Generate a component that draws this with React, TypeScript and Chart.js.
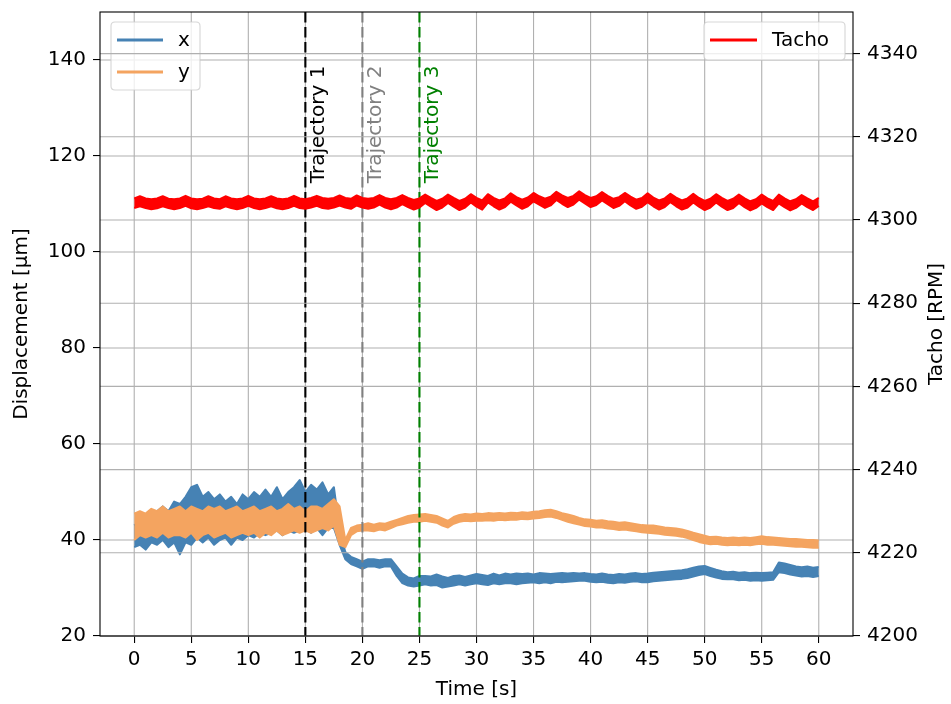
import React, { useEffect, useRef } from "react";
import { Chart, registerables } from "chart.js";
Chart.register(...registerables);

const STEP = 0.5; // seconds between envelope samples
const X_TICKS = [0, 5, 10, 15, 20, 25, 30, 35, 40, 45, 50, 55, 60];
const LEFT_TICKS = [20, 40, 60, 80, 100, 120, 140];
const RIGHT_TICKS = [4200, 4220, 4240, 4260, 4280, 4300, 4320, 4340];

const MARKER_TIMES = [15, 20, 25];
const MARKER_LABELS = ["Trajectory 1", "Trajectory 2", "Trajectory 3"];
const MARKER_COLORS = ["#000000", "#808080", "#008000"];

// displacement x [µm] – upper / lower envelope of the noisy trace
const X_UPPER = [
  43, 44, 44, 45, 46, 47, 46, 48, 47.5, 49,
  51, 51.5, 49, 50, 48.5, 49.5, 48, 49, 47.5, 49.5,
  48.5, 50, 49, 50.5, 49, 51, 48.5, 50, 51, 52.5,
  50, 51.5, 50.5, 52, 49.5, 51, 42, 37.5, 36.5, 36,
  35.5, 36, 36, 35.8, 36, 36, 34.5, 33, 32.2, 32,
  32.5, 32.5, 32.4, 32.8, 32.4, 32.1, 32.5, 32.6, 32.3, 32.6,
  32.9, 32.7, 32.5, 33, 32.6, 33, 32.8, 33, 32.9, 33,
  32.8, 33.1, 33, 32.9, 33, 33.1, 33, 33.1, 33, 33.1,
  32.9, 32.8, 33, 32.8, 32.7, 32.9, 32.8, 33, 33.1, 32.9,
  33, 33.2, 33.3, 33.4, 33.5, 33.6, 33.7, 33.9, 34.2, 34.5,
  34.6, 34.2, 33.8, 33.5, 33.3, 33.4, 33.2, 33.3, 33.1, 33.2,
  33.1, 33.2, 33.3, 35.3, 35.1, 34.8, 34.5, 34.3, 34.5, 34.2,
  34.4,
];
const X_LOWER = [
  38.5, 39, 38, 39.5, 39, 40, 38.5, 39.5, 37, 39.5,
  39, 40.5, 39.5, 40.5, 39, 40, 40.5, 39, 40.5, 40,
  41, 40.5, 41.5, 41, 41.5, 42, 41, 42, 41.5, 42,
  42.5, 41.5, 42.5, 41, 42.5, 42.5, 39, 36, 35, 34.5,
  34, 34.5, 34.5, 34.2, 34.5, 34.5, 32.5, 31, 30.5, 30.3,
  30.5, 30.8, 30.5, 30.6, 30.1, 30.3, 30.5, 30.8, 30.5, 30.8,
  31, 30.8, 30.6, 31, 30.8, 31, 31, 30.8, 31, 31.1,
  31.2, 31, 31.2, 31, 31.3, 31.2, 31.3, 31.4, 31.5, 31.5,
  31.3, 31.2, 31.3, 31.1, 31, 31.2, 31.1, 31.3, 31.4, 31.2,
  31.2, 31.4, 31.5, 31.6, 31.7, 31.8, 31.9, 32.1, 32.4, 32.7,
  32.9, 32.5, 32.2, 31.9, 31.8, 31.8, 31.6, 31.7, 31.5, 31.6,
  31.5, 31.6, 31.7, 33.3, 33.1, 32.8, 32.6, 32.4, 32.5, 32.3,
  32.5,
];

// displacement y [µm]
const Y_UPPER = [
  45.5, 46, 45.5, 46.5, 46, 47, 46, 46.5, 47, 46,
  47, 46.5, 46, 47, 46.5, 47, 46, 46.5, 47, 46,
  46.5, 47, 46, 46.5, 47, 46, 46.5, 47.5, 46.5, 47,
  46, 47, 47, 46.5, 47.5, 48.5, 47, 40, 42.5, 43,
  43.2, 43.5, 43.2, 43.5, 43.4, 43.8, 44.2, 44.6, 45, 45.2,
  45.3, 45.4, 45.2, 45, 44.5, 44, 44.8, 45.2, 45.4, 45.3,
  45.5, 45.4, 45.6, 45.5, 45.6, 45.5, 45.7, 45.6, 45.8, 45.7,
  45.9, 46, 46.2, 46.3, 46, 45.6, 45.3, 45, 44.6, 44.3,
  44.2, 44, 44.1, 43.9, 43.8, 43.6, 43.7, 43.5, 43.3, 43.1,
  43, 43, 42.8, 42.6, 42.5, 42.4, 42.2, 41.9, 41.5, 41.2,
  40.9, 40.6, 40.7, 40.5, 40.4, 40.5, 40.4, 40.5, 40.4, 40.6,
  40.8, 40.6, 40.5, 40.4, 40.3, 40.2, 40.2, 40.1, 40, 40,
  39.9,
];
const Y_LOWER = [
  40, 41, 40.5, 41, 40.5, 41.5, 40.5, 41, 41, 40.5,
  41.5, 40, 41, 41.5, 40.5, 41, 41.5, 40.5, 41, 41.5,
  41, 41.5, 40.5, 41.5, 41, 42, 41, 41.5, 42, 41.5,
  42, 41.5, 42, 42.5, 42, 43, 39, 38.5, 41, 41.8,
  42, 42, 41.8, 42.2, 42, 42.5, 43, 43.3, 43.6, 43.8,
  43.8, 44, 43.8, 43.6, 43, 42.6, 43.4, 43.8, 44, 43.9,
  44, 44, 44.1, 44, 44.2, 44.1, 44.2, 44.2, 44.4, 44.3,
  44.5, 44.6, 44.8, 44.9, 44.6, 44.2, 43.8, 43.5, 43.2, 42.9,
  42.8, 42.6, 42.6, 42.4, 42.3, 42.1, 42.2, 42, 41.8, 41.6,
  41.5, 41.4, 41.3, 41.1, 41, 40.9, 40.7, 40.4, 40, 39.6,
  39.3, 39.1, 39.2, 39, 38.9, 39, 38.9, 39, 38.9, 39.1,
  39.2, 39, 39, 38.9, 38.8, 38.7, 38.6, 38.6, 38.5, 38.4,
  38.4,
];

// tacho [RPM]
const TACHO_UPPER = [
  4305.2, 4305.7, 4305.2, 4305.0, 4305.2, 4305.7, 4305.1, 4305.0, 4305.2, 4305.8,
  4305.2, 4305.0, 4305.1, 4305.7, 4305.2, 4305.0, 4305.7, 4305.2, 4305.0, 4305.2,
  4305.8, 4305.2, 4305.0, 4305.2, 4305.7, 4305.2, 4305.0, 4305.2, 4305.8, 4305.2,
  4305.0, 4305.3, 4305.8, 4305.3, 4305.1, 4305.3, 4305.9, 4305.3, 4305.1, 4305.9,
  4305.3, 4305.1, 4305.3, 4306.0, 4305.3, 4305.0, 4305.3, 4306.0, 4305.3, 4304.8,
  4305.2, 4306.1, 4305.3, 4304.6, 4305.1, 4306.1, 4305.3, 4304.6, 4305.1, 4306.2,
  4305.3, 4304.7, 4306.2, 4305.3, 4304.7, 4305.2, 4306.4, 4305.5, 4304.9, 4305.4,
  4306.5, 4305.7, 4305.1, 4305.6, 4306.8, 4305.9, 4305.3, 4305.8, 4306.9, 4306.0,
  4305.3, 4305.7, 4306.7, 4305.8, 4305.1, 4305.5, 4306.5, 4305.6, 4304.9, 4305.3,
  4306.4, 4305.4, 4304.7, 4305.2, 4306.3, 4305.4, 4304.7, 4305.2, 4306.3, 4305.3,
  4304.6, 4305.1, 4306.2, 4305.3, 4304.6, 4305.1, 4306.1, 4305.2, 4304.5, 4305.0,
  4306.1, 4305.2, 4304.6, 4306.1, 4305.2, 4304.5, 4305.0, 4306.0, 4305.2, 4304.5,
  4305.3,
];
const TACHO_LOWER = [
  4302.9, 4303.3, 4302.9, 4302.6, 4302.8, 4303.3, 4302.9, 4302.6, 4302.9, 4303.4,
  4302.8, 4302.6, 4302.9, 4303.3, 4302.9, 4302.7, 4303.3, 4302.9, 4302.6, 4302.9,
  4303.4, 4302.9, 4302.6, 4302.9, 4303.3, 4302.8, 4302.6, 4302.9, 4303.4, 4302.9,
  4302.7, 4303.0, 4303.4, 4302.9, 4302.7, 4303.0, 4303.5, 4303.0, 4302.7, 4303.5,
  4303.0, 4302.7, 4303.0, 4303.7, 4303.0, 4302.6, 4303.0, 4303.8, 4303.1, 4302.5,
  4303.0, 4304.1, 4303.2, 4302.4, 4303.0, 4304.1, 4303.2, 4302.4, 4303.0, 4304.2,
  4303.2, 4302.5, 4304.2, 4303.3, 4302.5, 4303.1, 4304.4, 4303.5, 4302.7, 4303.3,
  4304.5, 4303.7, 4302.9, 4303.5, 4304.8, 4303.9, 4303.1, 4303.7, 4304.9, 4304.0,
  4303.1, 4303.6, 4304.7, 4303.8, 4302.9, 4303.4, 4304.5, 4303.5, 4302.7, 4303.2,
  4304.3, 4303.3, 4302.5, 4303.1, 4304.3, 4303.3, 4302.5, 4303.0, 4304.2, 4303.2,
  4302.4, 4303.0, 4304.2, 4303.2, 4302.4, 4302.9, 4304.1, 4303.1, 4302.3, 4302.9,
  4304.0, 4303.1, 4302.4, 4304.0, 4303.1, 4302.3, 4302.9, 4304.0, 4303.1, 4302.4,
  4303.4,
];

const FONT = "'DejaVu Sans', sans-serif";
const FS = 20;
const GRID_COLOR = "#b0b0b0";
const GRID_W = 1.1;
const C_X = "#4682b4";
const C_Y = "#f4a460";
const C_T = "#ff0000";

function drawLegend(ctx: CanvasRenderingContext2D, box: number[], items: { label: string; color: string; y: number }[], lineX0: number, lineX1: number, textX: number) {
  const [x0, y0, x1, y1] = box;
  const r = 4;
  ctx.save();
  ctx.beginPath();
  ctx.moveTo(x0 + r, y0);
  ctx.lineTo(x1 - r, y0);
  ctx.quadraticCurveTo(x1, y0, x1, y0 + r);
  ctx.lineTo(x1, y1 - r);
  ctx.quadraticCurveTo(x1, y1, x1 - r, y1);
  ctx.lineTo(x0 + r, y1);
  ctx.quadraticCurveTo(x0, y1, x0, y1 - r);
  ctx.lineTo(x0, y0 + r);
  ctx.quadraticCurveTo(x0, y0, x0 + r, y0);
  ctx.closePath();
  ctx.fillStyle = "rgba(255,255,255,0.8)";
  ctx.fill();
  ctx.strokeStyle = "rgba(204,204,204,0.8)";
  ctx.lineWidth = 1.1;
  ctx.stroke();
  for (const it of items) {
    ctx.beginPath();
    ctx.moveTo(lineX0, it.y);
    ctx.lineTo(lineX1, it.y);
    ctx.strokeStyle = it.color;
    ctx.lineWidth = 2.8;
    ctx.stroke();
    ctx.fillStyle = "#000";
    ctx.font = `${FS}px ${FONT}`;
    ctx.textAlign = "left";
    ctx.textBaseline = "middle";
    ctx.fillText(it.label, textX, it.y + 1);
  }
  ctx.restore();
}

export default function App() {
  const ref = useRef<HTMLCanvasElement>(null);

  useEffect(() => {
    if (!ref.current) return;
    const toPts = (arr: number[]) => arr.map((v, i) => ({ x: i * STEP, y: v }));

    const plugin = {
      id: "mplLook",
      beforeDatasetsDraw(chart: any) {
        const { ctx, chartArea: a, scales } = chart;
        ctx.save();
        ctx.strokeStyle = GRID_COLOR;
        ctx.lineWidth = GRID_W;
        for (const t of X_TICKS) {
          const px = scales.x.getPixelForValue(t);
          ctx.beginPath();
          ctx.moveTo(px, a.top);
          ctx.lineTo(px, a.bottom);
          ctx.stroke();
        }
        for (const t of LEFT_TICKS) {
          const py = scales.y.getPixelForValue(t);
          ctx.beginPath();
          ctx.moveTo(a.left, py);
          ctx.lineTo(a.right, py);
          ctx.stroke();
        }
        ctx.restore();
      },
      beforeDatasetDraw(chart: any, args: any) {
        if (args.index !== 4) return;
        const { ctx, chartArea: a, scales } = chart;
        ctx.save();
        MARKER_TIMES.forEach((t, k) => {
          const px = scales.x.getPixelForValue(t);
          ctx.beginPath();
          ctx.setLineDash([10.5, 4.5]);
          ctx.strokeStyle = MARKER_COLORS[k];
          ctx.lineWidth = 2.1;
          ctx.moveTo(px, a.top);
          ctx.lineTo(px, a.bottom);
          ctx.stroke();
          ctx.setLineDash([]);
          ctx.save();
          ctx.translate(px + 3, scales.y.getPixelForValue(114.3));
          ctx.rotate(-Math.PI / 2);
          ctx.fillStyle = MARKER_COLORS[k];
          ctx.font = `${FS}px ${FONT}`;
          ctx.textAlign = "left";
          ctx.textBaseline = "top";
          ctx.fillText(MARKER_LABELS[k], 0, 0);
          ctx.restore();
        });
        ctx.restore();
        drawLegend(ctx, [111, 22, 200, 90], [
          { label: "x", color: C_X, y: 40 },
          { label: "y", color: C_Y, y: 72 },
        ], 117, 163, 178);
        ctx.save();
        ctx.strokeStyle = GRID_COLOR;
        ctx.lineWidth = GRID_W;
        for (const t of RIGHT_TICKS) {
          const py = scales.y2.getPixelForValue(t);
          ctx.beginPath();
          ctx.moveTo(a.left, py);
          ctx.lineTo(a.right, py);
          ctx.stroke();
        }
        ctx.restore();
      },
      afterDatasetsDraw(chart: any) {
        const { ctx, chartArea: a } = chart;
        drawLegend(ctx, [704, 22, 845, 60], [
          { label: "Tacho", color: C_T, y: 40 },
        ], 710, 757, 772);
        ctx.save();
        ctx.strokeStyle = "#000";
        ctx.lineWidth = 1.1;
        ctx.strokeRect(a.left, a.top, a.right - a.left, a.bottom - a.top);
        ctx.fillStyle = "#000";
        ctx.font = `${FS}px ${FONT}`;
        ctx.textAlign = "center";
        ctx.textBaseline = "middle";
        ctx.fillText("Time [s]", (a.left + a.right) / 2, 690);
        const cy = (a.top + a.bottom) / 2;
        ctx.save();
        ctx.translate(22, cy);
        ctx.rotate(-Math.PI / 2);
        ctx.fillText("Displacement [µm]", 0, 0);
        ctx.restore();
        ctx.save();
        ctx.translate(937, cy);
        ctx.rotate(-Math.PI / 2);
        ctx.fillText("Tacho [RPM]", 0, 0);
        ctx.restore();
        ctx.restore();
      },
    };

    const tickFont = { family: FONT, size: FS };
    const gridOpts = { drawOnChartArea: false, drawTicks: true, tickLength: 7, color: "#000", lineWidth: 1.1 };
    const band = (label: string, data: number[], color: string, axis: string, order: number, fill: any) => ({
      label,
      data: toPts(data),
      borderColor: color,
      backgroundColor: color,
      borderWidth: 2,
      pointRadius: 0,
      yAxisID: axis,
      order,
      fill,
      borderJoinStyle: "round",
    });

    const chart = new Chart(ref.current, {
      type: "line",
      data: {
        datasets: [
          band("x", X_UPPER, C_X, "y", 6, false),
          band("x-low", X_LOWER, C_X, "y", 5, "-1"),
          band("y", Y_UPPER, C_Y, "y", 4, false),
          band("y-low", Y_LOWER, C_Y, "y", 3, "-1"),
          band("Tacho", TACHO_UPPER, C_T, "y2", 2, false),
          band("Tacho-low", TACHO_LOWER, C_T, "y2", 1, "-1"),
        ] as any,
      },
      options: {
        animation: false,
        responsive: false,
        devicePixelRatio: 1,
        layout: { padding: { top: 12, right: 0, left: 0, bottom: 0 } },
        plugins: { legend: { display: false }, tooltip: { enabled: false }, filler: { propagate: false } },
        scales: {
          x: {
            type: "linear",
            min: -3,
            max: 63,
            grid: gridOpts,
            border: { display: false },
            ticks: { font: tickFont, color: "#000", padding: 5, maxRotation: 0, callback: (v: any) => String(v) },
            afterBuildTicks: (s: any) => { s.ticks = X_TICKS.map((v) => ({ value: v })); },
            afterFit: (s: any) => { s.height = 68; s.paddingLeft = 0; s.paddingRight = 0; },
          },
          y: {
            type: "linear",
            position: "left",
            min: 20,
            max: 150,
            grid: gridOpts,
            border: { display: false },
            ticks: { font: tickFont, color: "#000", padding: 7, callback: (v: any) => String(v) },
            afterBuildTicks: (s: any) => { s.ticks = LEFT_TICKS.map((v) => ({ value: v })); },
            afterFit: (s: any) => { s.width = 100; s.paddingTop = 0; s.paddingBottom = 0; },
          },
          y2: {
            type: "linear",
            position: "right",
            min: 4200,
            max: 4350,
            grid: gridOpts,
            border: { display: false },
            ticks: { font: tickFont, color: "#000", padding: 7, callback: (v: any) => String(v) },
            afterBuildTicks: (s: any) => { s.ticks = RIGHT_TICKS.map((v) => ({ value: v })); },
            afterFit: (s: any) => { s.width = 98; s.paddingTop = 0; s.paddingBottom = 0; },
          },
        },
      } as any,
      plugins: [plugin],
    });
    return () => chart.destroy();
  }, []);

  return (
    <div style={{ position: "fixed", left: 0, top: 0, width: 951, height: 704, background: "#fff" }}>
      <canvas ref={ref} width={951} height={704} style={{ display: "block" }} />
    </div>
  );
}
